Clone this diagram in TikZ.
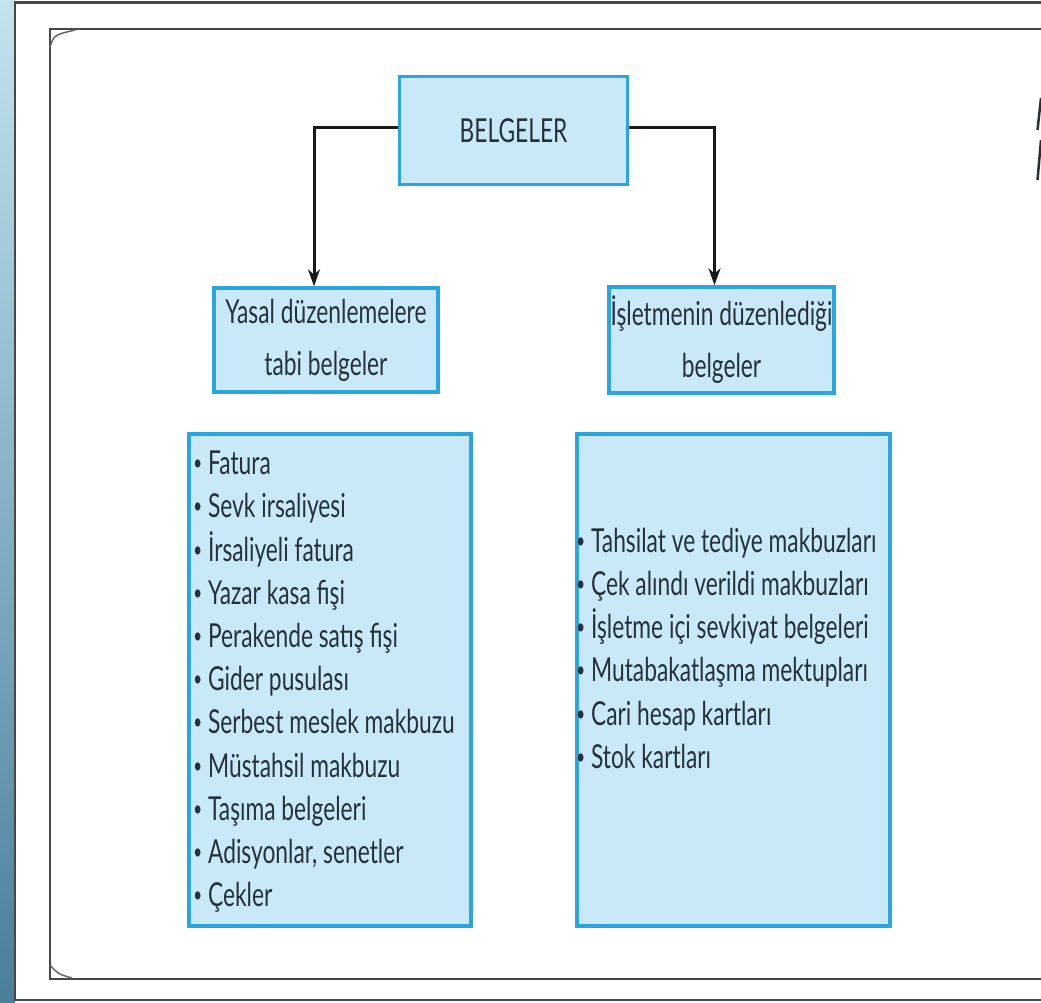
\documentclass[tikz,border=0pt]{standalone}
\usepackage{fontspec}
\setmainfont{Lato}[FakeStretch=0.69]
\usetikzlibrary{arrows.meta}
\usetikzlibrary{positioning}

\definecolor{kutumavi}{HTML}{C9E9F8}
\definecolor{kenarmavi}{HTML}{2BA5DD}
\definecolor{yazi}{HTML}{27313B}
\definecolor{serit}{HTML}{C1E4EE}
\definecolor{seritalt}{HTML}{4B7E9A}

\newcommand{\madde}{\raisebox{4pt}{\fontsize{22}{22}\selectfont•}\ }

\begin{document}
\begin{tikzpicture}[x=1pt,y=-1pt,
    kutu/.style={draw=kenarmavi,fill=kutumavi,line width=3.5pt,inner sep=0pt,
      text=yazi,font=\fontsize{33}{52}\selectfont,align=center},
    yazilar/.style={text=yazi,font=\fontsize{33}{43.2}\selectfont,inner sep=0pt,align=left},
    ok/.style={draw=black!90,line width=3pt,-{Stealth[length=17pt,width=12pt]}},
    cerceve/.style={draw=black!72,line width=2.4pt}]
\useasboundingbox (0,0) rectangle (1041,1003);
\clip (0,0) rectangle (1041,1003);

  \shade[top color=serit,bottom color=seritalt] (0,0) rectangle (15,1003);
  \draw[cerceve] (15,2.5) rectangle (1070,1000);
  \draw[cerceve] (50,29) rectangle (1070,979);
  \draw[black!60,line width=1.5pt] (50,47) .. controls (54,35) .. (75,30);
  \draw[black!60,line width=1.5pt] (50,965) .. controls (58,974) .. (72,978);
  \draw[yazi,line width=2.5pt] (1037.5,130) -- (1041,98);
  \draw[yazi,line width=2.5pt] (1037.5,180) -- (1041,140);

  \node[kutu,minimum width=228pt,minimum height=108pt] (belgeler) at (513.5,130.5) {BELGELER};
  \node[kutu,minimum width=224pt,minimum height=104pt] (yasal) at (326,340) {Yasal düzenlemelere\\tabi belgeler};
  \node[kutu,minimum width=225pt,minimum height=106pt] (isletme) at (721.5,340) {İşletmenin düzenlediği\\belgeler};
  \node[kutu,minimum width=282pt,minimum height=492pt] (yasalliste) at (330,680) {};
  \node[kutu,minimum width=313pt,minimum height=492pt] (isletmeliste) at (733.5,680) {};

  \node[yazilar,anchor=north west] (yasalmadde) at ([xshift=6pt,yshift=-18.5pt]yasalliste.north west) {\madde Fatura\\\madde Sevk irsaliyesi\\\madde İrsaliyeli fatura\\\madde Yazar kasa fişi\\\madde Perakende satış fişi\\\madde Gider pusulası\\\madde Serbest meslek makbuzu\\\madde Müstahsil makbuzu\\\madde Taşıma belgeleri\\\madde Adisyonlar, senetler\\\madde Çekler};
  \node[yazilar,anchor=north west] (isletmemadde) at ([xshift=1pt,yshift=-95.5pt]isletmeliste.north west) {\madde Tahsilat ve tediye makbuzları\\\madde Çek alındı verildi makbuzları\\\madde İşletme içi sevkiyat belgeleri\\\madde Mutabakatlaşma mektupları\\\madde Cari hesap kartları\\\madde Stok kartları};

  \draw[ok] ([yshift=3pt]belgeler.west) -| ([xshift=-12pt]yasal.north);
  \draw[ok] ([yshift=3pt]belgeler.east) -| ([xshift=-7pt]isletme.north);
\end{tikzpicture}
\end{document}
